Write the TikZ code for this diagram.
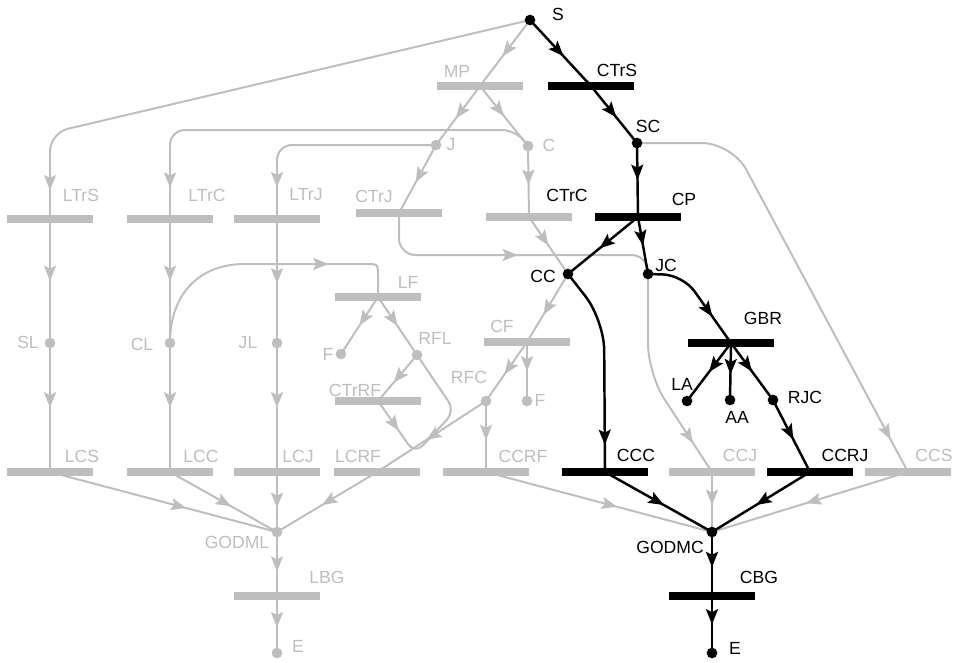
\documentclass[tikz,border=0pt]{standalone}
\usepackage{fontspec}
\setmainfont{Liberation Sans}
\usetikzlibrary{arrows.meta, decorations.markings, backgrounds}

\definecolor{lite}{RGB}{190,190,190}

\begin{document}
\begin{tikzpicture}[x=0.03cm, y=-0.03cm,
  tbar/.style={rectangle, fill=black, inner sep=0pt, minimum width=2.58cm, minimum height=0.22cm},
  gbar/.style={tbar, fill=lite},
  tdot/.style={circle, fill=black, inner sep=0pt, minimum size=0.32cm},
  gdot/.style={tdot, fill=lite},
  tlbl/.style={font=\fontsize{15}{17}\selectfont, inner sep=0pt},
  glbl/.style={tlbl, text=lite},
  tarc/.style={line width=2.1pt, black},
  garc/.style={line width=1.7pt, lite},
  arrat/.style={postaction={decorate}, decoration={markings,
      mark=at position #1 with {\arrow{Stealth[length=0.46cm, width=0.36cm, inset=0.09cm]}}}}
]

\useasboundingbox (0,0) rectangle (953,662);

%% places (gray)
\node[gdot] (J)     at (436,145) {};
\node[gdot] (C)     at (528,146) {};
\node[gdot] (SL)    at (50,343)  {};
\node[gdot] (CL)    at (170,343) {};
\node[gdot] (JL)    at (277,343) {};
\node[gdot] (FL)    at (341,354) {};
\node[gdot] (RFL)   at (417,355) {};
\node[gdot] (RFC)   at (486,401) {};
\node[gdot] (FC)    at (527,401) {};
\node[gdot] (GODML) at (277,532) {};
\node[gdot] (EL)    at (277,653) {};

%% transitions (gray)
\node[gbar] (MP)    at (480,86)  {};
\node[gbar] (LTrS)  at (50,219)  {};
\node[gbar] (LTrC)  at (170,219) {};
\node[gbar] (LTrJ)  at (277,219) {};
\node[gbar] (CTrJ)  at (399,213) {};
\node[gbar] (CTrC)  at (529,217) {};
\node[gbar] (LF)    at (378,297) {};
\node[gbar] (CF)    at (527,342) {};
\node[gbar] (CTrRF) at (378,401) {};
\node[gbar] (LCS)   at (50,472)  {};
\node[gbar] (LCC)   at (170,472) {};
\node[gbar] (LCJ)   at (277,472) {};
\node[gbar] (LCRF)  at (377,472) {};
\node[gbar] (CCRF)  at (486,472) {};
\node[gbar] (CCJ)   at (712,472) {};
\node[gbar] (CCS)   at (908,472) {};
\node[gbar] (LBG)   at (277,596) {};

%% places (black)
\node[tdot] (S)     at (530,20)  {};
\node[tdot] (SC)    at (637,143) {};
\node[tdot] (CC)    at (568,274) {};
\node[tdot] (JC)    at (648,274) {};
\node[tdot] (LA)    at (687,401) {};
\node[tdot] (AA)    at (730,400) {};
\node[tdot] (RJC)   at (773,400) {};
\node[tdot] (GODMC) at (712,532) {};
\node[tdot] (EC)    at (712,653) {};

%% transitions (black)
\node[tbar] (CTrS)  at (591,86)  {};
\node[tbar] (CP)    at (638,217) {};
\node[tbar] (GBR)   at (731,343) {};
\node[tbar] (CCC)   at (605,472) {};
\node[tbar] (CCRJ)  at (810,472) {};
\node[tbar] (CBG)   at (712,596) {};

%% labels
\node[glbl] (MP-l)    at (457,71)  {MP};
\node[glbl] (J-l)     at (451,145) {J};
\node[glbl] (C-l)     at (549,145) {C};
\node[glbl] (LTrS-l)  at (81,195)  {LTrS};
\node[glbl] (LTrC-l)  at (207,195) {LTrC};
\node[glbl] (LTrJ-l)  at (306,195) {LTrJ};
\node[glbl] (CTrJ-l)  at (374,196) {CTrJ};
\node[tlbl] (CTrC-l)  at (567,195) {CTrC};
\node[glbl] (LF-l)    at (408,282) {LF};
\node[glbl] (FL-l)    at (328,354) {F};
\node[glbl] (RFL-l)   at (435,338) {RFL};
\node[glbl] (CF-l)    at (502,326) {CF};
\node[glbl] (CTrRF-l) at (355,390) {CTrRF};
\node[glbl] (RFC-l)   at (469,377) {RFC};
\node[glbl] (FC-l)    at (540,400) {F};
\node[glbl] (SL-l)    at (28,342)  {SL};
\node[glbl] (CL-l)    at (142,344) {CL};
\node[glbl] (JL-l)    at (248,343) {JL};
\node[glbl] (LCS-l)   at (82,456)  {LCS};
\node[glbl] (LCC-l)   at (201,456) {LCC};
\node[glbl] (LCJ-l)   at (298,456) {LCJ};
\node[glbl] (LCRF-l)  at (358,456) {LCRF};
\node[glbl] (CCRF-l)  at (523,456) {CCRF};
\node[glbl] (CCJ-l)   at (740,455) {CCJ};
\node[glbl] (CCS-l)   at (934,455) {CCS};
\node[glbl] (GODML-l) at (237,542) {GODML};
\node[glbl] (LBG-l)   at (327,577) {LBG};
\node[glbl] (EL-l)    at (298,646) {E};

\node[tlbl] (S-l)     at (558,14)  {S};
\node[tlbl] (CTrS-l)  at (617,70)  {CTrS};
\node[tlbl] (SC-l)    at (648,126) {SC};
\node[tlbl] (CP-l)    at (684,199) {CP};
\node[tlbl] (CC-l)    at (543,276) {CC};
\node[tlbl] (JC-l)    at (666,265) {JC};
\node[tlbl] (GBR-l)   at (763,318) {GBR};
\node[tlbl] (LA-l)    at (682,384) {LA};
\node[tlbl] (AA-l)    at (737,417) {AA};
\node[tlbl] (RJC-l)   at (805,397) {RJC};
\node[tlbl] (CCC-l)   at (636,455) {CCC};
\node[tlbl] (CCRJ-l)  at (845,455) {CCRJ};
\node[tlbl] (GODMC-l) at (670,547) {GODMC};
\node[tlbl] (CBG-l)   at (759,577) {CBG};
\node[tlbl] (EC-l)    at (735,648) {E};

\begin{scope}[on background layer]
%% gray arcs
\draw[garc, arrat=.55] (S.center) -- (MP.center);
\draw[garc, rounded corners=0.55cm, arrat=.95] (S.center) -- (50,133) -- (LTrS.center);
\draw[garc, arrat=.55] (MP.center) -- (J.center);
\draw[garc, arrat=.5]  (MP.center) -- (C.center);
\draw[garc, rounded corners=0.45cm, arrat=.93] (C.center) -- (517,130) -- (170,130) -- (LTrC.center);
\draw[garc, rounded corners=0.45cm, arrat=.86] (J.center) -- (277,145) -- (LTrJ.center);
\draw[garc, arrat=.55] (J.center) -- (CTrJ.center);
\draw[garc, arrat=.55] (C.center) -- (CTrC.center);
\draw[garc, arrat=.5]  (CTrC.center) -- (CC.center);
\draw[garc, arrat=.6]  (CC.center) -- (CF.center);
\draw[garc, arrat=.5]  (CF.center) -- (FC.center);
\draw[garc, arrat=.55] (CF.center) -- (RFC.center);
\draw[garc, arrat=.55] (RFC.center) -- (CCRF.center);
\draw[garc, arrat=.55] (RFC.center) -- (LCRF.center);
\draw[garc, arrat=.55] (LCRF.center) -- (GODML.center);
\draw[garc, rounded corners=0.5cm, arrat=.52] (CTrJ.center) -- (399,255) -- (648,255) -- (JC.center);
\draw[garc, rounded corners=0.9cm, arrat=.84] (JC.center) -- (648,374) -- (CCJ.center);
\draw[garc, arrat=.55] (CCJ.center) -- (GODMC.center);
\draw[garc, rounded corners=0.9cm, arrat=.92] (SC.center) -- (732,143) -- (CCS.center);
\draw[garc, arrat=.52] (CCS.center) -- (GODMC.center);
\draw[garc, arrat=.58] (CCRF.center) -- (GODMC.center);

%% left column
\draw[garc, arrat=.5]  (LTrS.center) -- (SL.center);
\draw[garc, arrat=.5]  (SL.center) -- (LCS.center);
\draw[garc, arrat=.5]  (LTrC.center) -- (CL.center);
\draw[garc, arrat=.5]  (CL.center) -- (LCC.center);
\draw[garc, arrat=.52] (LTrJ.center) -- (JL.center);
\draw[garc, arrat=.5]  (JL.center) -- (LCJ.center);
\draw[garc, arrat=.6]  (LCS.center) -- (GODML.center);
\draw[garc, arrat=.57] (LCC.center) -- (GODML.center);
\draw[garc, arrat=.6]  (LCJ.center) -- (GODML.center);
\draw[garc, arrat=.62] (GODML.center) -- (LBG.center);
\draw[garc, arrat=.55] (LBG.center) -- (EL.center);

%% failure loop
\draw[garc, arrat=-2.4cm] (CL.center) .. controls (170,295) and (198,264) .. (245,264)
  -- (366,264) .. controls (378,264) .. (378,276) -- (LF.center);
\draw[garc, arrat=.5]  (LF.center) -- (FL.center);
\draw[garc, arrat=.5]  (LF.center) -- (RFL.center);
\draw[garc, arrat=.6]  (RFL.center) -- (CTrRF.center);
\draw[garc, rounded corners=0.35cm, arrat=.2] (CTrRF.center) -- (415,454) -- (455,411) -- (RFL.center);

%% black arcs
\draw[tarc, arrat=.55] (S.center) -- (CTrS.center);
\draw[tarc, arrat=.55] (CTrS.center) -- (SC.center);
\draw[tarc, arrat=.5]  (SC.center) -- (CP.center);
\draw[tarc, arrat=.55] (CP.center) -- (CC.center);
\draw[tarc, arrat=.5]  (CP.center) -- (JC.center);
\draw[tarc, rounded corners=0.6cm, arrat=.72] (JC.center) -- (683,275) -- (GBR.center);
\draw[tarc, arrat=.5]  (GBR.center) -- (LA.center);
\draw[tarc, arrat=.55] (GBR.center) -- (AA.center);
\draw[tarc, arrat=.5]  (GBR.center) -- (RJC.center);
\draw[tarc, arrat=.55] (RJC.center) -- (CCRJ.center);
\draw[tarc, rounded corners=0.9cm, arrat=.87] (CC.center) -- (604,320) -- (CCC.center);
\draw[tarc, arrat=.55] (CCC.center) -- (GODMC.center);
\draw[tarc, arrat=.55] (CCRJ.center) -- (GODMC.center);
\draw[tarc, arrat=.55] (GODMC.center) -- (CBG.center);
\draw[tarc, arrat=.5]  (CBG.center) -- (EC.center);
\end{scope}

\end{tikzpicture}
\end{document}
